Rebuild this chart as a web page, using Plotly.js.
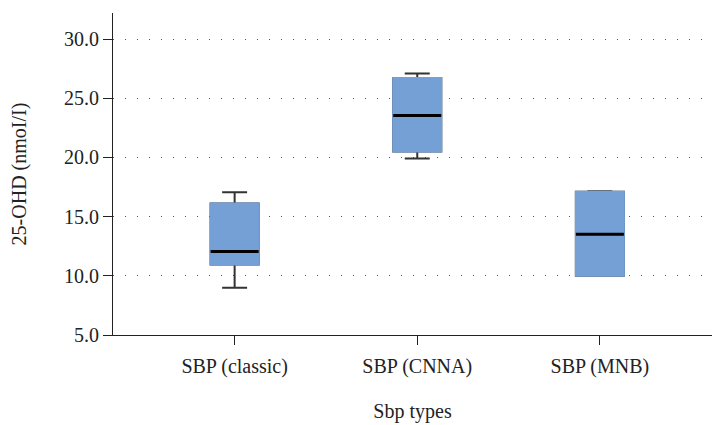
<!DOCTYPE html>
<html>
<head>
<meta charset="utf-8">
<script src="https://cdn.plot.ly/plotly-3.0.1.min.js"></script>
<style>html,body{margin:0;padding:0;background:#fff;}#chart{width:712px;height:425px;}</style>
</head>
<body>
<div id="chart"></div>
<script>
var categories = ['SBP (classic)', 'SBP (CNNA)', 'SBP (MNB)'];
var lowerFence = [9.0, 19.9, 10.0];
var q1Values = [10.95, 20.5, 10.0];
var medianValues = [12.05, 23.55, 13.5];
var q3Values = [16.1, 26.7, 17.1];
var upperFence = [17.05, 27.1, 17.15];
var yTickValues = [5, 10, 15, 20, 25, 30];

var boxFill = '#74a0d5';
var boxWidth = 0.263;

var base = {
  type: 'box', x: categories, width: boxWidth, whiskerwidth: 0.52,
  hoverinfo: 'skip', showlegend: false, boxpoints: false
};

var tWhisk = Object.assign({}, base, {
  q1: q1Values, median: medianValues, q3: q3Values,
  lowerfence: lowerFence, upperfence: upperFence,
  fillcolor: boxFill, line: {color: '#333333', width: 2}
});
var tBody = Object.assign({}, base, {
  q1: q1Values, median: medianValues, q3: q3Values,
  lowerfence: q1Values, upperfence: q3Values,
  fillcolor: boxFill, line: {color: boxFill, width: 2}
});
var tMedian = Object.assign({}, base, {
  q1: medianValues, median: medianValues, q3: medianValues,
  lowerfence: medianValues, upperfence: medianValues,
  fillcolor: 'rgba(0,0,0,0)', line: {color: '#000000', width: 3}
});

var font = {family: '"Liberation Serif", "Times New Roman", serif', size: 20, color: '#222'};

var layout = {
  width: 712, height: 425,
  margin: {l: 113, r: 0, t: 13, b: 90},
  paper_bgcolor: '#fff', plot_bgcolor: '#fff',
  font: font,
  boxmode: 'overlay',
  showlegend: false,
  xaxis: {
    type: 'category', range: [-0.666, 2.614],
    showline: true, linecolor: '#222', linewidth: 1,
    ticks: 'outside', ticklen: 9, tickcolor: '#222', tickwidth: 1,
    ticklabelstandoff: 4,
    showgrid: false, zeroline: false,
    tickfont: font,
    title: {text: 'Sbp types', font: font, standoff: 26}
  },
  yaxis: {
    range: [5, 32.2],
    tickvals: yTickValues, tickformat: '.1f',
    showline: true, linecolor: '#222', linewidth: 1,
    ticks: 'outside', ticklen: 9, tickcolor: '#222', tickwidth: 1,
    showgrid: true, gridcolor: '#555', gridwidth: 1, griddash: '1px,11px',
    zeroline: false,
    tickfont: font,
    title: {text: '25-OHD (nmoI/I)', font: font, standoff: 32}
  }
};

Plotly.newPlot('chart', [tWhisk, tBody, tMedian], layout, {displayModeBar: false, staticPlot: true});
</script>
</body>
</html>
